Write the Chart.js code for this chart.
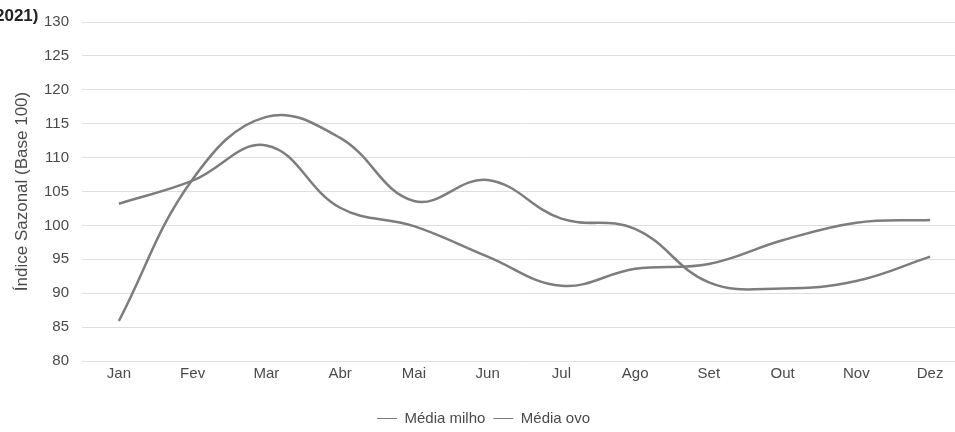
<!DOCTYPE html>
<html>
<head>
<meta charset="utf-8">
<script src="https://cdn.jsdelivr.net/npm/chart.js@4"></script>
<style>
  html, body { margin: 0; padding: 0; background: #fff; overflow: hidden; }
  #wrap { position: relative; width: 955px; height: 432px; overflow: hidden; }
  #chart { position: absolute; left: 0; top: 0; }
  #cut-title {
    position: absolute; left: -5px; top: 6px;
    font: bold 17px "Liberation Sans", Arial, sans-serif; color: #222;
  }
</style>
</head>
<body>
<div id="wrap">
  <canvas id="chart" width="975" height="432"></canvas>
  <div id="cut-title">2021)</div>
</div>
<script>
// Data
const months = ['Jan', 'Fev', 'Mar', 'Abr', 'Mai', 'Jun', 'Jul', 'Ago', 'Set', 'Out', 'Nov', 'Dez'];
const mediaMilho = [103.2, 106.6, 111.8, 102.6, 99.9, 95.4, 91.1, 93.6, 94.3, 97.8, 100.4, 100.8];
const mediaOvo = [85.9, 106.8, 116.0, 112.9, 103.6, 106.7, 101.0, 99.5, 91.6, 90.7, 91.8, 95.4];
const yTicks = [80, 85, 90, 95, 100, 105, 110, 115, 120, 125, 130];

const lineColor = '#7d7d7d';
const textColor = '#4a4a4a';
const fontFamily = '"Liberation Sans", Arial, sans-serif';

const ctx = document.getElementById('chart').getContext('2d');

new Chart(ctx, {
    type: 'line',
    data: {
        labels: months,
        datasets: [
            {
                label: 'Média milho',
                data: mediaMilho,
                borderColor: lineColor,
                backgroundColor: lineColor,
                borderWidth: 2.5,
                pointRadius: 0,
                tension: 0.4
            },
            {
                label: 'Média ovo',
                data: mediaOvo,
                borderColor: lineColor,
                backgroundColor: lineColor,
                borderWidth: 2.5,
                pointRadius: 0,
                tension: 0.4
            }
        ]
    },
    options: {
        responsive: false,
        animation: false,
        layout: { padding: { top: 14, right: 8, left: 0, bottom: -4 } },
        plugins: {
            tooltip: { enabled: false },
            legend: {
                display: true,
                position: 'bottom',
                labels: {
                    color: textColor,
                    font: { family: fontFamily, size: 15 },
                    usePointStyle: true,
                    pointStyle: 'line',
                    pointStyleWidth: 20,
                    padding: 8,
                    // thin legend lines, as in the scan
                    generateLabels: (chart) => {
                        const items = Chart.defaults.plugins.legend.labels.generateLabels(chart);
                        items.forEach(item => { item.lineWidth = 1; });
                        return items;
                    }
                }
            }
        },
        scales: {
            x: {
                offset: true,
                grid: { display: false, drawTicks: false },
                border: { display: false },
                ticks: {
                    color: textColor,
                    font: { family: fontFamily, size: 15 },
                    padding: 4,
                    maxRotation: 0
                },
                afterFit: (scale) => {
                    scale.height += 16;
                }
            },
            y: {
                min: 80,
                max: 130,
                afterBuildTicks: (scale) => {
                    scale.ticks = yTicks.map(v => ({ value: v }));
                },
                afterFit: (scale) => {
                    scale.width = 82;
                },
                grid: { color: '#dedede', lineWidth: 1, drawTicks: false },
                border: { display: false },
                ticks: {
                    color: textColor,
                    font: { family: fontFamily, size: 15 },
                    padding: 13
                },
                title: {
                    display: true,
                    text: 'Índice Sazonal (Base 100)',
                    color: textColor,
                    font: { family: fontFamily, size: 17 },
                    padding: { top: 12, bottom: 0 }
                }
            }
        }
    }
});
</script>
</body>
</html>
